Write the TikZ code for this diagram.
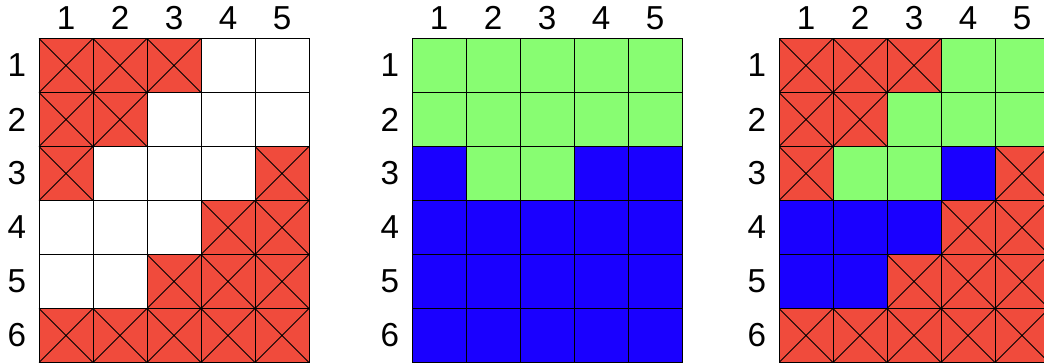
\documentclass[tikz,border=0pt]{standalone}
\usepackage{fontspec}
\setmainfont{Liberation Sans}
\definecolor{cutred}{HTML}{F04B3C}
\definecolor{keepgreen}{HTML}{88FD72}
\definecolor{fillblue}{HTML}{1A00FF}

\begin{document}
\begin{tikzpicture}[
  every node/.style={font=\fontsize{17.5}{20}\selectfont,inner sep=0pt},
  cell/.style={draw,line width=0.5pt},
  boxW/.style={cell,fill=white},
  boxG/.style={cell,fill=keepgreen},
  boxB/.style={cell,fill=fillblue},
  boxR/.style={cell,fill=cutred,path picture={
      \draw[line width=0.5pt] (path picture bounding box.north west) -- (path picture bounding box.south east)
        (path picture bounding box.north east) -- (path picture bounding box.south west);}}
]
  \useasboundingbox (0,0) rectangle (19.333,-6.704);
  \clip (0,0) rectangle (19.333,-6.704);

  % three grids: cut cells, region cells, both together
  \foreach \gx/\g/\rows in {
      0.722/a/{{R,R,R,W,W},{R,R,W,W,W},{R,W,W,W,R},{W,W,W,R,R},{W,W,R,R,R},{R,R,R,R,R}},
      7.63/b/{{G,G,G,G,G},{G,G,G,G,G},{B,G,G,B,B},{B,B,B,B,B},{B,B,B,B,B},{B,B,B,B,B}},
      14.426/c/{{R,R,R,G,G},{R,R,G,G,G},{R,G,G,B,R},{B,B,B,R,R},{B,B,R,R,R},{R,R,R,R,R}}} {
    \begin{scope}[shift={(\gx,-0.713)}]
      \foreach \cells [count=\r] in \rows
        \foreach \c [count=\k] in \cells
          \draw[box\c] (\k-1,1-\r) rectangle ++(1,-1);
      % labels
      \foreach \k in {1,...,5}
        \node (\g col\k) at (\k-0.5,0.38) {\k};
      \foreach \r in {1,...,6}
        \node (\g row\r) at (-0.41,0.5-\r) {\r};
    \end{scope}
  }
\end{tikzpicture}
\end{document}
